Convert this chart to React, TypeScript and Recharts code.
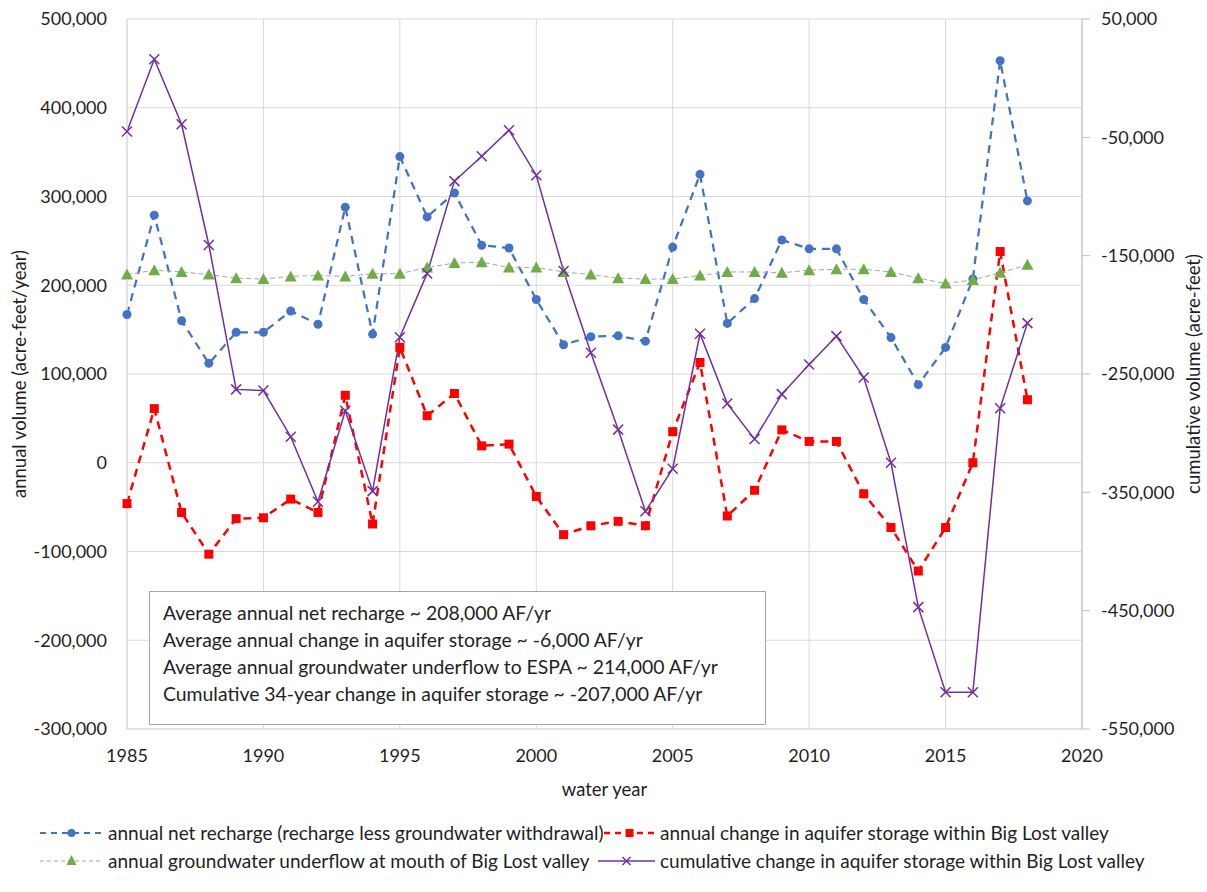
import React from "react";
import { LineChart, Line, XAxis, YAxis, CartesianGrid, Label } from "recharts";

const years = [
  1985, 1986, 1987, 1988, 1989, 1990, 1991, 1992, 1993, 1994, 1995, 1996, 1997, 1998, 1999, 2000, 2001,
  2002, 2003, 2004, 2005, 2006, 2007, 2008, 2009, 2010, 2011, 2012, 2013, 2014, 2015, 2016, 2017, 2018,
];

// annual net recharge (recharge less groundwater withdrawal)
const netRecharge = [
  167000, 279000, 160000, 112000, 147000, 147000, 171000, 156000, 288000, 145000, 345000, 277000, 304000,
  245000, 242000, 184000, 133000, 142000, 143000, 137000, 243000, 325000, 157000, 185000, 251000, 241000,
  241000, 184000, 141000, 88000, 130000, 207000, 453000, 295000,
];

// annual change in aquifer storage within Big Lost valley
const storageChange = [
  -46000, 61000, -56000, -103000, -63000, -62000, -41000, -56000, 76000, -69000, 130000, 53000, 78000,
  19000, 21000, -38000, -81000, -71000, -66000, -71000, 35000, 113000, -60000, -31000, 37000, 24000, 24000,
  -35000, -73000, -122000, -73000, 0, 238000, 71000,
];

// annual groundwater underflow at mouth of Big Lost valley
const underflow = [
  212000, 217000, 215000, 212000, 208000, 207000, 210000, 211000, 210000, 213000, 213000, 220000, 225000,
  226000, 220000, 220000, 215000, 212000, 208000, 207000, 207000, 211000, 215000, 215000, 214000, 217000,
  218000, 218000, 215000, 208000, 202000, 206000, 214000, 223000,
];

// cumulative change in aquifer storage within Big Lost valley (right axis)
const cumulative = [
  -45000, 16000, -39000, -141000, -263000, -264000, -303000, -358000, -281000, -349000, -219000, -165000,
  -87000, -66000, -44000, -82000, -163000, -232000, -297000, -366000, -330000, -216000, -275000, -305000,
  -267000, -242000, -218000, -253000, -325000, -447000, -519000, -519000, -279000, -207000,
];

const yearTicks = [1985, 1990, 1995, 2000, 2005, 2010, 2015, 2020];
const leftTicks = [500000, 400000, 300000, 200000, 100000, 0, -100000, -200000, -300000];
const rightTicks = [50000, -50000, -150000, -250000, -350000, -450000, -550000];

const summaryLines = [
  "Average annual net recharge ~ 208,000 AF/yr",
  "Average annual change in aquifer storage ~ -6,000 AF/yr",
  "Average annual groundwater underflow to ESPA ~ 214,000 AF/yr",
  "Cumulative 34-year change in aquifer storage ~ -207,000 AF/yr",
];

const FONT = "Lato, 'Open Sans', sans-serif";
const TEXT = "#1f1f1f";
const GRID = "#d9d9d9";

const BLUE = "#4472C4";
const RED = "#FF0000";
const GREEN = "#70AD47";
const GREY = "#a6a6a6";
const PURPLE = "#7030A0";

const data = years.map((year, i) => ({
  year,
  netRecharge: netRecharge[i],
  storageChange: storageChange[i],
  underflow: underflow[i],
  cumulative: cumulative[i],
}));

const fmt = (v: number) => v.toLocaleString("en-US");

const CircleDot = (props: any) => {
  const { cx, cy, index } = props;
  if (cx == null || cy == null) return <g key={index} />;
  return <circle key={index} cx={cx} cy={cy} r={4.5} fill={BLUE} />;
};

const SquareDot = (props: any) => {
  const { cx, cy, index } = props;
  if (cx == null || cy == null) return <g key={index} />;
  return <rect key={index} x={cx - 4.5} y={cy - 4.5} width={9} height={9} fill={RED} />;
};

const TriangleDot = (props: any) => {
  const { cx, cy, index } = props;
  if (cx == null || cy == null) return <g key={index} />;
  return <path key={index} d={`M${cx},${cy - 6} L${cx + 6},${cy + 5} L${cx - 6},${cy + 5} Z`} fill={GREEN} />;
};

const CrossDot = (props: any) => {
  const { cx, cy, index } = props;
  if (cx == null || cy == null) return <g key={index} />;
  const s = 5;
  return (
    <path
      key={index}
      d={`M${cx - s},${cy - s} L${cx + s},${cy + s} M${cx - s},${cy + s} L${cx + s},${cy - s}`}
      stroke={PURPLE}
      strokeWidth={1.5}
      fill="none"
    />
  );
};

const LegendIcon = ({ kind, w }: { kind: string; w: number }) => {
  const c = w / 2;
  let line: any = null;
  let mark: any = null;
  if (kind === "blue") {
    line = <line x1={0} y1={8} x2={w} y2={8} stroke={BLUE} strokeWidth={2} strokeDasharray="6 5" />;
    mark = <circle cx={c} cy={8} r={4} fill={BLUE} />;
  } else if (kind === "red") {
    line = <line x1={0} y1={8} x2={w} y2={8} stroke={RED} strokeWidth={2.5} strokeDasharray="6 5" />;
    mark = <rect x={c - 4} y={4} width={8} height={8} fill={RED} />;
  } else if (kind === "green") {
    line = <line x1={0} y1={8} x2={w} y2={8} stroke={GREY} strokeWidth={1} strokeDasharray="4 3" />;
    mark = <path d={`M${c},2 L${c + 5},12 L${c - 5},12 Z`} fill={GREEN} />;
  } else {
    line = <line x1={0} y1={8} x2={w} y2={8} stroke={PURPLE} strokeWidth={1.5} />;
    mark = (
      <path d={`M${c - 4},4 L${c + 4},12 M${c - 4},12 L${c + 4},4`} stroke={PURPLE} strokeWidth={1.5} fill="none" />
    );
  }
  return (
    <svg width={w} height={16} style={{ display: "block" }}>
      {line}
      {mark}
    </svg>
  );
};

const legendItems = [
  { kind: "blue", label: "annual net recharge (recharge less groundwater withdrawal)", x: 40, w: 63, tx: 108, y: 833 },
  { kind: "red", label: "annual change in aquifer storage within Big Lost valley", x: 604, w: 51, tx: 660, y: 833 },
  { kind: "green", label: "annual groundwater underflow at mouth of Big Lost valley", x: 40, w: 63, tx: 108, y: 861 },
  { kind: "purple", label: "cumulative change in aquifer storage within Big Lost valley", x: 598, w: 57, tx: 660, y: 861 },
];

const App: React.FC = () => {
  const tickStyle = { fontSize: 18, fill: TEXT, fontFamily: FONT };

  return (
    <div style={{ position: "absolute", left: 0, top: 0, width: 1207, height: 892, background: "#fff", fontFamily: FONT }}>
      <LineChart width={1207} height={892} data={data} margin={{ top: 19, right: 0, left: 0, bottom: 113 }}>
        <CartesianGrid yAxisId="left" stroke={GRID} strokeWidth={1} />
        <XAxis
          dataKey="year"
          type="number"
          domain={[1985, 2020]}
          ticks={yearTicks}
          interval={0}
          height={50}
          tickLine={false}
          axisLine={{ stroke: GRID }}
          tick={tickStyle}
          tickMargin={14}
        >
          <Label
            content={(p: any) => {
              const vb = p.viewBox;
              return (
                <text x={vb.x + vb.width / 2} y={vb.y + 67} textAnchor="middle" fontSize={18.5} fill={TEXT} fontFamily={FONT}>
                  water year
                </text>
              );
            }}
          />
        </XAxis>
        <YAxis
          yAxisId="left"
          type="number"
          domain={[-300000, 500000]}
          ticks={leftTicks}
          interval={0}
          width={127}
          tickFormatter={fmt}
          tickLine={false}
          axisLine={{ stroke: GRID }}
          tickSize={8}
          tickMargin={12}
          tick={tickStyle}
        >
          <Label
            content={(p: any) => {
              const vb = p.viewBox;
              const x = vb.x + 19;
              const y = vb.y + vb.height / 2;
              return (
                <text
                  x={x}
                  y={y}
                  transform={`rotate(-90, ${x}, ${y})`}
                  textAnchor="middle"
                  dominantBaseline="central"
                  fontSize={18.5}
                  fill={TEXT}
                  fontFamily={FONT}
                >
                  annual volume (acre-feet/year)
                </text>
              );
            }}
          />
        </YAxis>
        <YAxis
          yAxisId="right"
          orientation="right"
          type="number"
          domain={[-550000, 50000]}
          ticks={rightTicks}
          interval={0}
          width={125}
          tickFormatter={fmt}
          tickLine={{ stroke: "#bfbfbf" }}
          axisLine={{ stroke: "#bfbfbf" }}
          tickSize={8}
          tickMargin={11}
          tick={{ ...tickStyle, textAnchor: "start" }}
        >
          <Label
            content={(p: any) => {
              const vb = p.viewBox;
              const x = vb.x + 111;
              const y = vb.y + vb.height / 2;
              return (
                <text
                  x={x}
                  y={y}
                  transform={`rotate(-90, ${x}, ${y})`}
                  textAnchor="middle"
                  dominantBaseline="central"
                  fontSize={18.5}
                  fill={TEXT}
                  fontFamily={FONT}
                >
                  cumulative volume (acre-feet)
                </text>
              );
            }}
          />
        </YAxis>

        <Line
          yAxisId="left"
          dataKey="netRecharge"
          stroke={BLUE}
          strokeWidth={2.25}
          strokeDasharray="8 6"
          dot={<CircleDot />}
          activeDot={false}
          isAnimationActive={false}
        />
        <Line
          yAxisId="left"
          dataKey="storageChange"
          stroke={RED}
          strokeWidth={2.5}
          strokeDasharray="8 6"
          dot={<SquareDot />}
          activeDot={false}
          isAnimationActive={false}
        />
        <Line
          yAxisId="left"
          dataKey="underflow"
          stroke={GREY}
          strokeWidth={1}
          strokeDasharray="5 3"
          dot={<TriangleDot />}
          activeDot={false}
          isAnimationActive={false}
        />
        <Line
          yAxisId="right"
          dataKey="cumulative"
          stroke={PURPLE}
          strokeWidth={1.5}
          dot={<CrossDot />}
          activeDot={false}
          isAnimationActive={false}
        />
      </LineChart>

      <div
        style={{
          position: "absolute",
          left: 149,
          top: 591,
          width: 615,
          height: 132,
          border: "1px solid #a6a6a6",
          background: "#fff",
          boxSizing: "content-box",
        }}
      >
        <div style={{ position: "absolute", left: 13, top: 7, fontSize: 19.4, lineHeight: "27px", color: TEXT, whiteSpace: "nowrap" }}>
          {summaryLines.map((t) => (
            <div key={t}>{t}</div>
          ))}
        </div>
      </div>

      {legendItems.map((it) => (
        <React.Fragment key={it.kind}>
          <div style={{ position: "absolute", left: it.x, top: it.y - 8 }}>
            <LegendIcon kind={it.kind} w={it.w} />
          </div>
          <div
            style={{
              position: "absolute",
              left: it.tx,
              top: it.y - 13,
              height: 26,
              lineHeight: "26px",
              fontSize: 19,
              color: TEXT,
              whiteSpace: "nowrap",
            }}
          >
            {it.label}
          </div>
        </React.Fragment>
      ))}
    </div>
  );
};

export default App;
